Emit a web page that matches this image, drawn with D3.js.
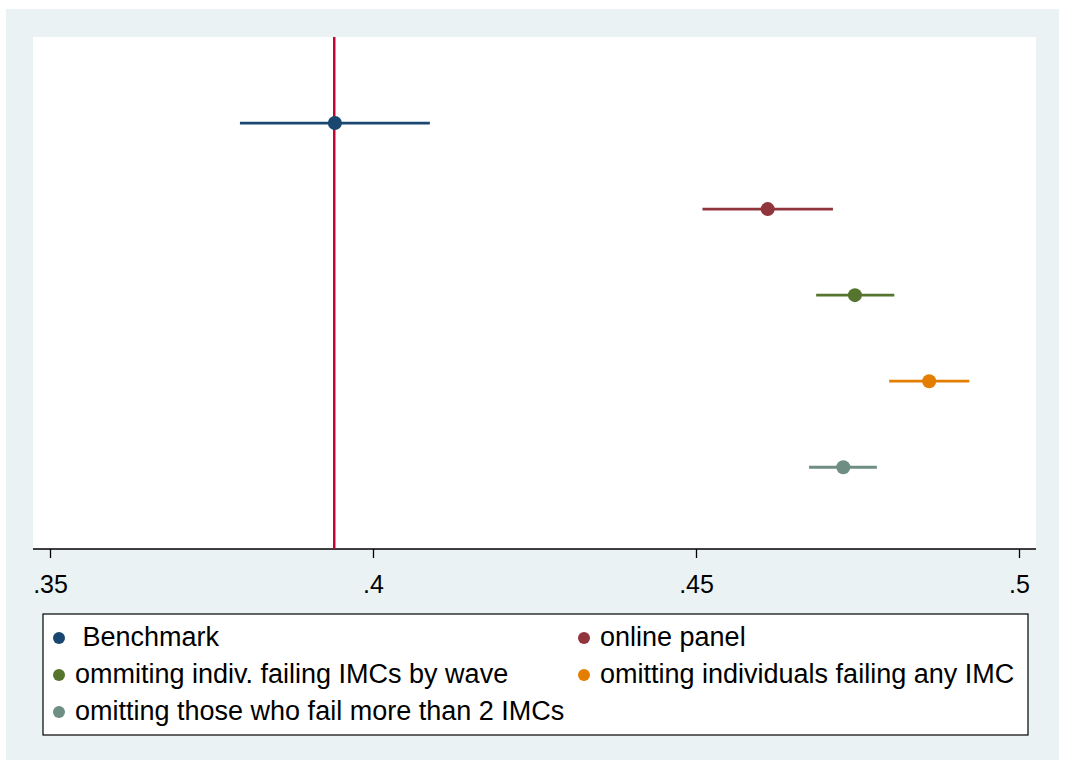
<!DOCTYPE html>
<html><head><meta charset="utf-8">
<script src="https://cdn.jsdelivr.net/npm/d3@7"></script>
<style>body{margin:0;background:#fff}svg{display:block}text{font-family:"Liberation Sans",Arial,sans-serif}</style>
</head><body><svg id="c" width="1065" height="769"></svg>
<script>
const labels = [" Benchmark","online panel","ommiting indiv. failing IMCs by wave","omitting individuals failing any IMC","omitting those who fail more than 2 IMCs"];
const estimates = [0.3941, 0.4611, 0.4746, 0.4861, 0.4728];
const lower = [0.3794, 0.4510, 0.4686, 0.4799, 0.4675];
const upper = [0.4088, 0.4712, 0.4807, 0.4923, 0.4780];
const colors = ["#1a476f","#90353b","#55752f","#e37e00","#6e8e84"];
const refLine = 0.3940;
const xTicks = [0.35, 0.40, 0.45, 0.50];
const xTickLabels = [".35", ".4", ".45", ".5"];

const svg = d3.select("#c");
svg.append("rect").attr("x",6).attr("y",9).attr("width",1053).attr("height",751).attr("fill","#eaf2f3");
const L=33,R=1036,T=37,B=549;
svg.append("rect").attr("x",L).attr("y",T).attr("width",R-L).attr("height",B-T).attr("fill","#fff");

const x = d3.scaleLinear().domain([0.35,0.5]).range([50,1019]);
const y = d3.scaleLinear().domain([0,5.95]).range([T,B]);

const ax = svg.append("g").attr("transform",`translate(0,${B})`)
  .call(d3.axisBottom(x).tickValues(xTicks).tickFormat((d,i)=>xTickLabels[i]).tickSize(9).tickPadding(17));
ax.select(".domain").attr("d",`M${L},0H${R}`).attr("stroke","#000").attr("stroke-width",1.3);
ax.selectAll(".tick line").attr("stroke","#000").attr("stroke-width",1.3);
ax.selectAll(".tick text").attr("font-size",25).attr("fill","#000").attr("font-family","'Liberation Sans',Arial,sans-serif");

svg.append("line").attr("x1",x(refLine)).attr("x2",x(refLine)).attr("y1",T).attr("y2",B)
  .attr("stroke","#c10534").attr("stroke-width",2.5);

const g = svg.append("g");
estimates.forEach((e,i)=>{
  const yy=y(i+1);
  g.append("line").attr("x1",x(lower[i])).attr("x2",x(upper[i])).attr("y1",yy).attr("y2",yy)
    .attr("stroke",colors[i]).attr("stroke-width",2.8);
  g.append("circle").attr("cx",x(e)).attr("cy",yy).attr("r",7).attr("fill",colors[i]);
});

// legend
svg.append("rect").attr("x",43).attr("y",614).attr("width",985).attr("height",121)
  .attr("fill","#fff").attr("stroke","#000").attr("stroke-width",1.2);
const pos = [[59,638],[584,638],[59,675],[584,675],[59,712]];
labels.forEach((t,i)=>{
  const [px,py]=pos[i];
  svg.append("circle").attr("cx",px).attr("cy",py).attr("r",6).attr("fill",colors[i]);
  svg.append("text").attr("x",px+16).attr("y",py+8).attr("font-size",27).attr("fill","#000")
    .attr("xml:space","preserve").style("white-space","pre").text(t);
});
</script></body></html>
